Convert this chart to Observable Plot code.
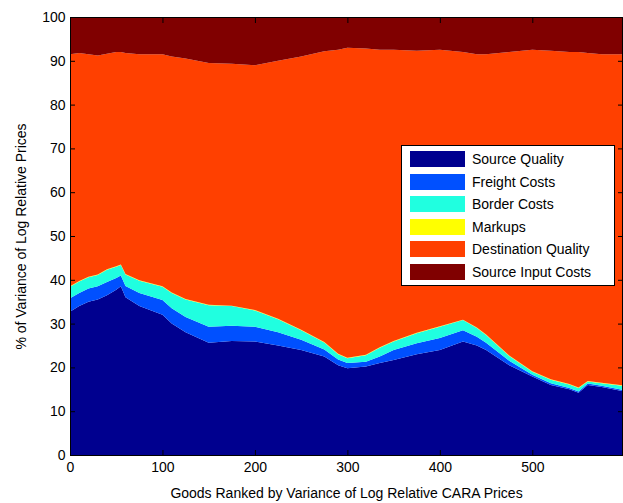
<!DOCTYPE html>
<html><head><meta charset="utf-8">
<script src="https://cdn.jsdelivr.net/npm/d3@7"></script>
<script src="https://cdn.jsdelivr.net/npm/@observablehq/plot@0.6"></script>
<style>
body{margin:0;background:#fff;font-family:"Liberation Sans",Arial,sans-serif}
#wrap{position:relative;width:623px;height:503px}
#legend{position:absolute;left:401px;top:145px;width:212px;background:#fff;border:1px solid #000;font-size:14px;padding:2px 0}
#legend div{display:flex;align-items:center;height:22.5px}
#legend span.sw{display:inline-block;width:55px;height:16px;margin:0 7px 0 8px}
</style></head><body>
<div id="wrap"><div id="chart"></div><div id="legend"></div></div>
<script>
const goods = [0,10,20,30,40,50,55,60,75,100,110,125,150,175,200,225,250,275,290,300,320,335,350,375,400,425,440,450,475,500,520,540,550,560,575,597];
const sourceQuality = [32.7,34,35,35.5,36.5,37.7,38.5,36,34,32,30,28,25.6,26,25.9,25,24,22.5,20.5,19.8,20.2,21,21.7,23,24,25.9,25,24,20.5,17.9,16,15,14.2,16,15.5,14.6];
const freightCosts = [3.1,3,3,3,3,2.7,2.5,2.6,3,3.4,3.5,3.5,3.7,3.5,3.4,3,2.3,1.6,1.3,1.2,1.1,1.5,2.3,2.5,2.7,2.6,2,1.6,1,0.4,0.4,0.3,0.3,0.3,0.3,0.3];
const borderCosts = [2.6,2.6,2.6,2.6,2.8,2.6,2.4,2.6,2.8,3,3.5,4,4.9,4.5,3.7,3,2.2,1.6,1.2,1.1,1.5,2,1.9,2.3,2.6,2.3,2,1.8,1.1,0.7,0.8,0.8,0.8,0.5,0.6,0.9];
const markups = goods.map(() => 0.1);
const topLine = [91.5,91.8,91.5,91.2,91.6,92,92,91.8,91.5,91.5,91,90.5,89.5,89.3,89,90,91,92.2,92.5,93,92.8,92.5,92.5,92.3,92.5,92,91.5,91.5,92,92.5,92.3,92,92,91.8,91.5,91.5];

const names = ["Source Quality","Freight Costs","Border Costs","Markups","Destination Quality","Source Input Costs"];
const colors = ["#00008f","#0050ff","#20ffe0","#ffff00","#ff4000","#800000"];
const rows = [];
goods.forEach((g,i)=>{
  const a=sourceQuality[i], b=freightCosts[i], c=borderCosts[i], d=markups[i];
  const e = topLine[i]-(a+b+c+d);
  const f = 100-topLine[i];
  [a,b,c,d,e,f].forEach((v,k)=>rows.push({x:g,v,s:names[k]}));
});
const xt=[0,100,200,300,400,500], yt=d3.range(0,101,10);
const chart = Plot.plot({
  width:623, height:503,
  marginLeft:70, marginRight:1, marginTop:17, marginBottom:48,
  style:{fontFamily:"Liberation Sans, Arial, sans-serif", fontSize:"14px", color:"#000", background:"#fff"},
  x:{domain:[0,597]},
  y:{domain:[0,100]},
  color:{domain:names, range:colors},
  marks:[
    Plot.areaY(rows,{x:"x", y:"v", fill:"s", order:names}),
    Plot.axisX(xt,{tickSize:-5, tickPadding:12, label:"Goods Ranked by Variance of Log Relative CARA Prices", labelAnchor:"center", labelArrow:"none", labelOffset:42}),
    Plot.axisX(xt,{anchor:"top", tickSize:-5, label:null, tickFormat:()=>""}),
    Plot.axisY(yt,{tickSize:-5, tickPadding:10, label:"% of Variance of Log Relative Prices", labelAnchor:"center", labelArrow:"none", labelOffset:54}),
    Plot.axisY(yt,{anchor:"right", tickSize:-5, label:null, tickFormat:()=>""}),
    Plot.frame({stroke:"#000"})
  ]
});
document.getElementById("chart").appendChild(chart);
const lg=document.getElementById("legend");
names.forEach((n,i)=>{const d=document.createElement("div");d.innerHTML=`<span class="sw" style="background:${colors[i]}"></span>${n}`;lg.appendChild(d);});
</script></body></html>
